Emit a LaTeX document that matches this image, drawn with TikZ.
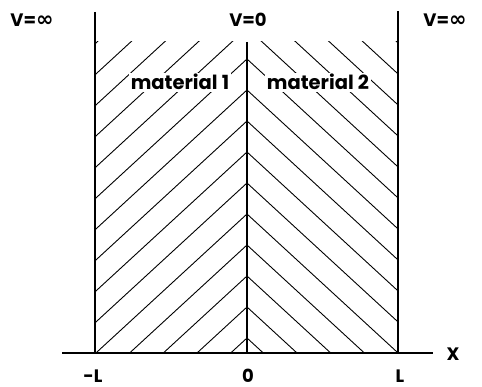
\documentclass[tikz,border=0pt]{standalone}
\usepackage{fontspec}
\setmainfont{Poppins}
\newfontfamily\symfont{DejaVu Sans}
\newcommand{\infsym}{{\symfont\fontsize{21}{21}\selectfont ∞}}
\begin{document}
\begin{tikzpicture}[x=1pt,y=-1pt,
  wall/.style={line width=1.6pt},
  hatchline/.style={line width=0.9pt},
  lab/.style={font=\fontsize{18}{18}\selectfont\bfseries, inner sep=0pt, anchor=base},
  axlab/.style={font=\fontsize{18}{18}\selectfont\bfseries, inner sep=0pt, anchor=base},
  mat/.style={font=\fontsize{19.5}{19.5}\selectfont\bfseries, fill=white, inner sep=1.5pt, anchor=base}]
\useasboundingbox (0,0) rectangle (482,387);
% hatching left
\begin{scope}
  \clip (95,42) rectangle (247,353);
  \foreach \k in {0,...,15}{
    \draw[hatchline] (247,{338-31*\k}) -- (47,{338-31*\k+184});
  }
\end{scope}
\begin{scope}
  \clip (247,42) rectangle (398,353);
  \foreach \k in {0,...,15}{
    \draw[hatchline] (247,{338-31*\k}) -- (447,{338-31*\k+184});
  }
\end{scope}
% walls and axis
\coordinate (lwt) at (95,12);
\coordinate (lwb) at (95,353);
\coordinate (rwt) at (398,11);
\coordinate (rwb) at (398,353);
\coordinate (ct) at (247,42);
\coordinate (cb) at (247,353);
\coordinate (ax1) at (62,353);
\coordinate (ax2) at (433,353);
\draw[wall] (lwt) -- (lwb);
\draw[wall] (rwt) -- (rwb);
\draw[wall] (ct) -- (cb);
\draw[wall] (ax1) -- (ax2);
% labels
\node[lab] (vl) at (32,27) {V=\infsym};
\node[lab] (vc) at (248,27) {V=0};
\node[lab] (vr) at (445,27) {V=\infsym};
\node[mat] (m1) at (180,90) {material 1};
\node[mat] (m2) at (318,90) {material 2};
\node[axlab] (xl) at (453,360) {X};
\node[axlab] (ml) at (93,382) {-L};
\node[axlab] (zl) at (248,382) {0};
\node[axlab] (pl) at (400,382) {L};
\end{tikzpicture}
\end{document}
